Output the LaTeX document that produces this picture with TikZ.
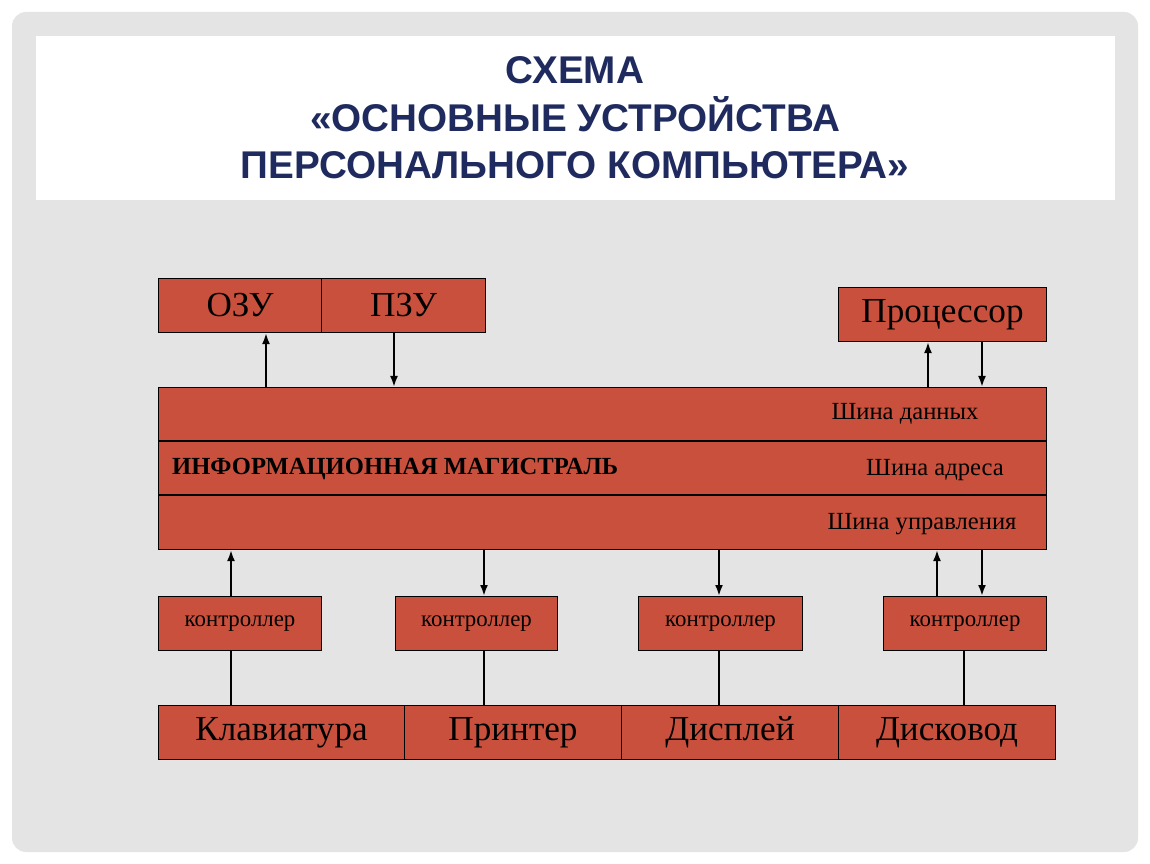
\documentclass[tikz,border=0pt]{standalone}
\usepackage{fontspec}
\setmainfont{Liberation Serif}
\newfontfamily\titlefont{Liberation Sans}
\usetikzlibrary{calc,arrows.meta}
\definecolor{kirpich}{HTML}{C9503D}
\definecolor{fon}{HTML}{E4E4E4}
\definecolor{titul}{HTML}{1F2A5E}
\tikzset{
  blok/.style={draw=black,line width=0.6pt,fill=kirpich,inner sep=0pt,anchor=north west},
  strelka/.style={-{Latex[length=2.2mm,width=1.6mm]},line width=1.2pt},
  svyaz/.style={line width=0.8pt}
}
% box from (x1,y1) to (x2,y2) in pixels
\newcommand{\blokpx}[6]{%
  \node[blok,minimum width={(#4-#2)*0.02cm},minimum height={(#5-#3)*0.02cm}] (#1) at (#2,#3) {};
  \node at (#1.center) {#6};}
\begin{document}
\begin{tikzpicture}[x=0.02cm,y=-0.02cm]

  \useasboundingbox (0,0) rectangle (1150,864);
  \fill[white] (0,0) rectangle (1150,864);
  \fill[fon,rounded corners=8pt] (12,12) rectangle (1138,852);
  \fill[white] (36,36) rectangle (1115,200);

  \node[titul,font=\titlefont\bfseries\fontsize{22}{27}\selectfont,align=center] (zagolovok) at (575,118)
    {СХЕМА\\«ОСНОВНЫЕ УСТРОЙСТВА\\ПЕРСОНАЛЬНОГО КОМПЬЮТЕРА»};

  \begin{scope}[font=\fontsize{20}{24}\selectfont]
    \blokpx{ozu}{158}{278}{321}{332}{ОЗУ}
    \blokpx{pzu}{321}{278}{485}{332}{ПЗУ}
    \blokpx{proc}{838}{287}{1046}{341}{Процессор}
    \blokpx{klav}{158}{705}{404}{759}{Клавиатура}
    \blokpx{print}{404}{705}{621}{759}{Принтер}
    \blokpx{disp}{621}{705}{838}{759}{Дисплей}
    \blokpx{disk}{838}{705}{1055}{759}{Дисковод}
  \end{scope}

  \node[blok,minimum width={888*0.02cm},minimum height={162*0.02cm}] (shina) at (158,387) {};
  \draw[line width=0.6pt] (158,441) -- (1046,441) (158,495) -- (1046,495);
  \begin{scope}[font=\fontsize{14}{17}\selectfont]
    \node (dannye) at (905,414) {Шина данных};
    \node (adres) at (935,470) {Шина адреса};
    \node (upr) at (922,524) {Шина управления};
  \end{scope}
  \node[anchor=west,font=\bfseries\fontsize{14}{17}\selectfont] (magistral) at (166,469)
    {ИНФОРМАЦИОННАЯ МАГИСТРАЛЬ};

  \begin{scope}[font=\fontsize{13}{16}\selectfont]
    \blokpx{k1}{158}{596}{321}{650}{контроллер}
    \blokpx{k2}{395}{596}{557}{650}{контроллер}
    \blokpx{k3}{638}{596}{802}{650}{контроллер}
    \blokpx{k4}{883}{596}{1046}{650}{контроллер}
  \end{scope}

  % arrows to memory and processor
  \draw[strelka] (shina.north -| 266,0) -- (ozu.south -| 266,0);
  \draw[strelka] (pzu.south -| 394,0) -- (shina.north -| 394,0);
  \draw[strelka] (shina.north -| 928,0) -- (proc.south -| 928,0);
  \draw[strelka] (proc.south -| 982,0) -- (shina.north -| 982,0);

  % arrows to controllers
  \draw[strelka] (k1.north -| 231,0) -- (shina.south -| 231,0);
  \draw[strelka] (shina.south -| 484,0) -- (k2.north -| 484,0);
  \draw[strelka] (shina.south -| 719,0) -- (k3.north -| 719,0);
  \draw[strelka] (k4.north -| 937,0) -- (shina.south -| 937,0);
  \draw[strelka] (shina.south -| 982,0) -- (k4.north -| 982,0);

  % controllers to devices
  \draw[svyaz] (k1.south -| 231,0) -- (klav.north -| 231,0);
  \draw[svyaz] (k2.south -| 484,0) -- (print.north -| 484,0);
  \draw[svyaz] (k3.south -| 719,0) -- (disp.north -| 719,0);
  \draw[svyaz] (k4.south -| 964,0) -- (disk.north -| 964,0);

\end{tikzpicture}
\end{document}
